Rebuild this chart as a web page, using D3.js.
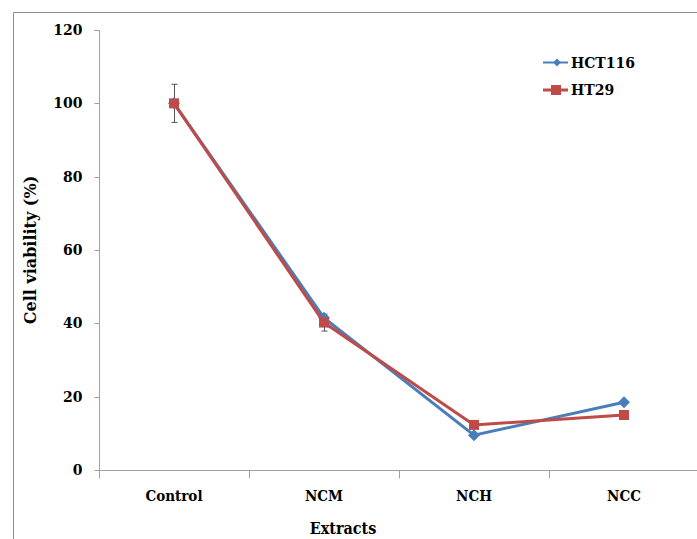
<!DOCTYPE html>
<html><head><meta charset="utf-8">
<script src="https://cdn.jsdelivr.net/npm/d3@7"></script>
<style>body{margin:0;background:#fff}svg{display:block}</style>
</head><body>
<script>
const categories = ["Control","NCM","NCH","NCC"];
const hct116 = [100, 41.5, 9.5, 18.5];
const ht29 = [100, 40.2, 12.3, 15.0];
const ht29Err = [5.2, 2.3, 0.5, 0.5];
const yTicks = [0,20,40,60,80,100,120];
const seriesNames = ["HCT116","HT29"];

const W=697,H=539;
const svg=d3.select("body").append("svg").attr("width",W).attr("height",H);
svg.append("rect").attr("width",W).attr("height",H).attr("fill","#fff");
svg.append("path").attr("d","M13.5,"+H+"V12.5H"+W).attr("fill","none").attr("stroke","#8c8c8c").attr("stroke-width",1);

const x=d3.scaleBand().domain(categories).range([99,699]);
const y=d3.scaleLinear().domain([0,120]).range([470,30]);
const serif="'DejaVu Serif', serif";
const cond="'DejaVu Serif Condensed', 'DejaVu Serif', serif";

const ya=svg.append("g").attr("transform","translate(99.5,0)")
 .call(d3.axisLeft(y).tickValues(yTicks).tickSize(5).tickPadding(12));
ya.select(".domain").attr("stroke","#a0a0a0").attr("d","M-5,"+y(120)+".5H0V"+(y(0)+0.5));
ya.selectAll(".tick line").attr("stroke","#a0a0a0");
ya.selectAll(".tick").attr("transform",d=>"translate(0,"+(Math.round(y(d))+0.5)+")");
ya.selectAll("text").attr("font-family",serif).attr("font-weight","bold").attr("font-size",14).attr("fill","#000");

const xa=svg.append("g").attr("transform","translate(0,470.5)");
xa.append("line").attr("x1",99).attr("x2",W).attr("stroke","#a0a0a0");
xa.selectAll("line.tk").data(categories).join("line").attr("class","tk")
 .attr("x1",d=>x(d)+0.5).attr("x2",d=>x(d)+0.5).attr("y1",0).attr("y2",8).attr("stroke","#a0a0a0");
xa.selectAll("text").data(categories).join("text")
 .attr("x",d=>x(d)+x.bandwidth()/2).attr("y",30)
 .attr("text-anchor","middle").attr("font-family",cond)
 .attr("font-weight","bold").attr("font-size",15).attr("fill","#000").text(d=>d);

svg.append("text").attr("x",343).attr("y",534).attr("text-anchor","middle")
 .attr("font-family",cond).attr("font-weight","bold").attr("font-size",16).text("Extracts");
svg.append("text").attr("transform","translate(36,250) rotate(-90)").attr("text-anchor","middle")
 .attr("font-family",serif).attr("font-weight","bold").attr("font-size",16).text("Cell viability (%)");

const cx=d=>x(d)+x.bandwidth()/2;
const blue="#4a7ebb", red="#be4b48";

const eb=svg.append("g").attr("stroke","#555").attr("stroke-width",1);
categories.forEach((c,i)=>{
  const xc=cx(c)+0.5;
  eb.append("line").attr("x1",xc).attr("x2",xc).attr("y1",y(ht29[i]+ht29Err[i])).attr("y2",y(ht29[i]-ht29Err[i]));
  eb.append("line").attr("x1",xc-3).attr("x2",xc+3).attr("y1",y(ht29[i]+ht29Err[i])).attr("y2",y(ht29[i]+ht29Err[i]));
  eb.append("line").attr("x1",xc-3).attr("x2",xc+3).attr("y1",y(ht29[i]-ht29Err[i])).attr("y2",y(ht29[i]-ht29Err[i]));
});

const dia=r=>"M0,"+(-r)+"L"+r+",0L0,"+r+"L"+(-r)+",0Z";
const line=d3.line().x((d,i)=>cx(categories[i])).y(d=>y(d));
svg.append("path").datum(hct116).attr("d",line).attr("fill","none").attr("stroke",blue).attr("stroke-width",3);
svg.selectAll("path.dm").data(hct116).join("path").attr("class","dm")
 .attr("d",dia(6)).attr("fill",blue)
 .attr("transform",(d,i)=>"translate("+cx(categories[i])+","+y(d)+")");
svg.append("path").datum(ht29).attr("d",line).attr("fill","none").attr("stroke",red).attr("stroke-width",3);
svg.selectAll("rect.sq").data(ht29).join("rect").attr("class","sq")
 .attr("x",(d,i)=>cx(categories[i])-5).attr("y",d=>y(d)-5).attr("width",10).attr("height",10).attr("fill",red);

const lg=svg.append("g");
[[blue,62.5],[red,90]].forEach(([col,ly],i)=>{
  lg.append("line").attr("x1",543).attr("x2",568).attr("y1",ly).attr("y2",ly).attr("stroke",col).attr("stroke-width",i?3:2);
  if(i===0) lg.append("path").attr("d",dia(4)).attr("fill",col).attr("transform","translate(557,"+ly+")");
  else lg.append("rect").attr("x",551).attr("y",ly-5).attr("width",10).attr("height",10).attr("fill",col);
  lg.append("text").attr("x",571).attr("y",ly+5).attr("font-family",serif).attr("font-weight","bold").attr("font-size",14).text(seriesNames[i]);
});
</script>
</body></html>
